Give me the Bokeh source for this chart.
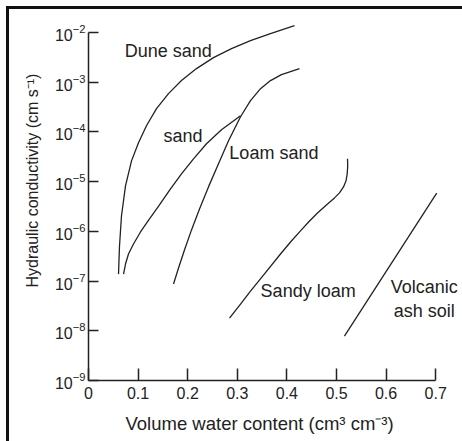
from bokeh.plotting import figure
from bokeh.models import Range1d, FixedTicker, Title
from bokeh.core.properties import value
from bokeh.embed import file_html
from bokeh.resources import INLINE

FONT = "Liberation Sans"
INK = "#222222"

# Volume water content (cm3 cm-3) and hydraulic conductivity (cm s-1) per soil
dune_theta = [0.0605, 0.0625, 0.0665, 0.0746, 0.0867, 0.1008, 0.1169, 0.1371,
              0.1613, 0.1875, 0.2177, 0.2520, 0.2883, 0.3266, 0.3669, 0.4153]
dune_k = [1.38e-7, 5.08e-7, 2.04e-6, 8.22e-6, 2.62e-5, 6.05e-5, 1.33e-4, 2.94e-4,
          5.89e-4, 1.08e-3, 1.88e-3, 3.13e-3, 4.76e-3, 6.90e-3, 9.55e-3, 1.38e-2]

sand_theta = [0.0706, 0.0746, 0.0806, 0.0907, 0.1048, 0.1230, 0.1431,
              0.1653, 0.1875, 0.2117, 0.2379, 0.2681, 0.3065]
sand_k = [1.38e-7, 2.20e-7, 3.50e-7, 5.57e-7, 9.73e-7, 1.78e-6, 3.40e-6,
          7.16e-6, 1.44e-5, 2.88e-5, 5.78e-5, 1.11e-4, 2.12e-4]

loam_sand_theta = [0.1714, 0.1815, 0.1935, 0.2077, 0.2238, 0.2419, 0.2621, 0.2823,
                   0.3065, 0.3266, 0.3468, 0.3669, 0.3891, 0.4073, 0.4254]
loam_sand_k = [8.71e-8, 1.83e-7, 4.22e-7, 1.07e-6, 2.83e-6, 7.85e-6, 2.29e-5, 6.65e-5,
               2.02e-4, 4.26e-4, 7.43e-4, 1.08e-3, 1.42e-3, 1.64e-3, 1.88e-3]

sandy_loam_theta = [0.2843, 0.3065, 0.3266, 0.3528, 0.3871, 0.4073, 0.4274, 0.4456, 0.4617,
                    0.4819, 0.4960, 0.5060, 0.5141, 0.5192, 0.5216, 0.5226, 0.5222]
sandy_loam_k = [1.79e-8, 3.44e-8, 6.28e-8, 1.32e-7, 3.50e-7, 6.11e-7, 1.02e-6, 1.62e-6, 2.35e-6,
                3.57e-6, 4.71e-6, 5.94e-6, 7.85e-6, 1.04e-5, 1.44e-5, 2.08e-5, 2.88e-5]

volcanic_theta = [0.516, 0.702]
volcanic_k = [7.8e-9, 5.9e-6]

x_ticks = [0.0, 0.1, 0.2, 0.3, 0.4, 0.5, 0.6, 0.7]
y_ticks = [1e-9, 1e-8, 1e-7, 1e-6, 1e-5, 1e-4, 1e-3, 1e-2]

# Curve names and where they are written
label_text = ["Dune sand", "sand", "Loam sand", "Sandy loam"]
label_theta = [0.073, 0.151, 0.284, 0.347]
label_k = [4.3e-3, 8.4e-5, 3.8e-5, 6.3e-8]

p = figure(
    width=462, height=441,
    x_range=Range1d(0, 0.75), y_range=Range1d(1e-9, 0.022),
    y_axis_type="log",
    output_backend="svg", toolbar_location=None,
    min_border_left=88, min_border_right=2,
    min_border_top=15, min_border_bottom=61,
)
p.grid.visible = False
p.outline_line_color = None
p.background_fill_color = "white"
p.border_fill_color = None
# page frame drawn along the top and left edges
p.styles = {
    "background-color": "white",
    "box-shadow": "inset 6px 6px 0 0 white, inset 9px 9px 0 0 #111111",
}

for ax in (p.xaxis[0], p.yaxis[0]):
    ax.axis_line_color = INK
    ax.axis_line_width = 1.5
    ax.major_tick_line_color = INK
    ax.major_tick_line_width = 1.5
    ax.minor_tick_line_color = None
    ax.major_tick_out = 0
    ax.major_label_text_font = FONT
    ax.major_label_text_font_size = "16px"
    ax.major_label_text_color = INK

p.xaxis.ticker = FixedTicker(ticks=x_ticks)
p.xaxis.bounds = (0, 0.7)
p.xaxis.major_tick_in = 12
p.xaxis.major_label_standoff = 6

p.yaxis.ticker = FixedTicker(ticks=y_ticks, minor_ticks=[])
p.yaxis.bounds = (1e-9, 1e-2)
p.yaxis.major_tick_in = 10
p.yaxis.major_label_standoff = 3

# axis titles (the x title leaves a short gap line above itself)
p.add_layout(Title(text="\nVolume water content (cm³ cm⁻³)", align="left", offset=37,
                   standoff=0, vertical_align="top", text_line_height=0.55,
                   text_font=FONT, text_font_size="18.5px", text_font_style="normal",
                   text_color=INK), "below")
p.add_layout(Title(text="Hydraulic conductivity (cm s⁻¹)", align="left", offset=93,
                   standoff=20, vertical_align="middle",
                   text_font=FONT, text_font_size="16px", text_font_style="normal",
                   text_color=INK), "left")

for th, k in [(dune_theta, dune_k), (sand_theta, sand_k), (loam_sand_theta, loam_sand_k),
              (sandy_loam_theta, sandy_loam_k), (volcanic_theta, volcanic_k)]:
    p.line(th, k, line_color=INK, line_width=1.3)

p.text(x=label_theta, y=label_k, text=label_text,
       text_font=value(FONT), text_font_size="18px", text_color=INK,
       text_align="left", text_baseline="middle")
p.text(x=[0.677], y=[4.4e-8], text=["Volcanic\nash soil"],
       text_font=value(FONT), text_font_size="18px", text_color=INK,
       text_align="center", text_baseline="middle")

open("out.html", "w").write(file_html(p, INLINE))
